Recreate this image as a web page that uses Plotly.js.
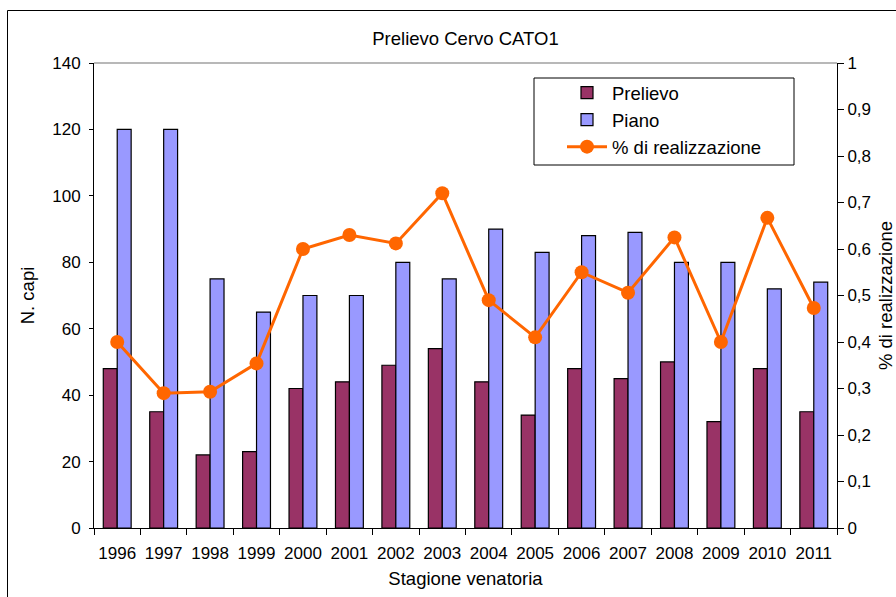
<!DOCTYPE html>
<html>
<head>
<meta charset="utf-8">
<script src="https://cdn.plot.ly/plotly-3.0.1.min.js"></script>
<style>html,body{margin:0;padding:0;background:#fff;}#chart{width:896px;height:597px;}</style>
</head>
<body>
<div id="chart"></div>
<script>
const years = ["1996","1997","1998","1999","2000","2001","2002","2003","2004","2005","2006","2007","2008","2009","2010","2011"];
const prelievo = [48,35,22,23,42,44,49,54,44,34,48,45,50,32,48,35];
const piano = [120,120,75,65,70,70,80,75,90,83,88,89,80,80,72,74];
const realizzazione = [0.40,0.29,0.293,0.354,0.60,0.63,0.612,0.72,0.49,0.41,0.55,0.506,0.625,0.40,0.667,0.473];
const leftTicks = [0,20,40,60,80,100,120,140];
const rightTicks = [0,0.1,0.2,0.3,0.4,0.5,0.6,0.7,0.8,0.9,1];

const FONT = "Liberation Sans, Arial, sans-serif";
const W = 896, H = 597;
const mL = 94, mR = 59, mT = 63, mB = 69;
const pw = W - mL - mR, ph = H - mT - mB;
const px = x => (x - mL) / pw;
const py = y => (H - mB - y) / ph;

const traces = [
  {type:'bar', name:'Prelievo', x:years, y:prelievo, marker:{color:'#993366', line:{color:'#000', width:1.2}}},
  {type:'bar', name:'Piano', x:years, y:piano, marker:{color:'#9999FF', line:{color:'#000', width:1.2}}},
  {type:'scatter', mode:'lines+markers', name:'% di realizzazione', x:years, y:realizzazione, yaxis:'y2',
   line:{color:'#FF6600', width:3}, marker:{color:'#FF6600', size:14}}
];

const boundaries = [];
for (let i = 0; i <= years.length; i++) boundaries.push(i - 0.5);

const layout = {
  width: W, height: H,
  margin: {l:mL, r:mR, t:mT, b:mB, pad:0},
  paper_bgcolor:'#fff', plot_bgcolor:'#fff',
  separators: ',.',
  font: {family: FONT, size: 17, color:'#000'},
  title: {text:'Prelievo Cervo CATO1', font:{size:18.5}, x:0.5, xref:'paper', y:1-39/H, yanchor:'middle'},
  barmode:'group', bargap:0.4, bargroupgap:0,
  showlegend:true,
  legend:{x:px(562), y:py(74), xanchor:'left', yanchor:'top', bgcolor:'rgba(0,0,0,0)', borderwidth:0,
          font:{size:18.5}, itemwidth:40, tracegroupgap:0, traceorder:'normal'},
  xaxis:{type:'category', range:[-0.5, years.length-0.5], autorange:false, showline:true, linecolor:'#000', linewidth:1,
         ticks:'outside', ticklen:6, tickcolor:'#000', tickangle:0, ticklabelstandoff:10,
         tickson:'boundaries', showgrid:false, zeroline:false, tickfont:{size:17},
         title:{text:'Stagione venatoria', font:{size:18.5}, standoff:9}},
  xaxis2:{overlaying:'x', anchor:'y', type:'linear', range:[-0.5, years.length-0.5], autorange:false, tickmode:'array', tickvals:boundaries,
          ticks:'inside', ticklen:5, tickcolor:'#000', showticklabels:false, showline:false, showgrid:false, zeroline:false},
  yaxis:{range:[0,140], autorange:false, tickmode:'array', tickvals:leftTicks, showline:true, linecolor:'#000', linewidth:1,
         ticks:'outside', ticklen:4, tickcolor:'#000', showgrid:false, zeroline:false, tickfont:{size:17}, ticklabelstandoff:5,
         title:{text:'N. capi', font:{size:18.5}, standoff:12}},
  yaxis2:{overlaying:'y', side:'right', anchor:'x', range:[0,1], autorange:false, tickmode:'array', tickvals:rightTicks,
          showline:true, linecolor:'#000', linewidth:1, ticks:'outside', ticklen:6, tickcolor:'#000',
          showgrid:false, zeroline:false, tickfont:{size:17},
          title:{text:'% di realizzazione', font:{size:18.5}, standoff:10}},
  yaxis3:{overlaying:'y', side:'left', anchor:'x', range:[0,140], autorange:false, tickmode:'array', tickvals:leftTicks,
          ticks:'inside', ticklen:6, tickcolor:'#000', showticklabels:false, showline:false, showgrid:false, zeroline:false},
  yaxis4:{overlaying:'y', side:'right', anchor:'x', range:[0,1], autorange:false, tickmode:'array', tickvals:rightTicks,
          ticks:'inside', ticklen:6, tickcolor:'#000', showticklabels:false, showline:false, showgrid:false, zeroline:false},
  shapes:[
    {type:'line', xref:'paper', yref:'paper', x0:0, x1:1, y0:1, y1:1, line:{color:'#A0A0A0', width:1.5}},
    {type:'rect', xref:'paper', yref:'paper', x0:px(534), x1:px(794), y0:py(78), y1:py(165), line:{color:'#000', width:1}, fillcolor:'rgba(0,0,0,0)'},
    {type:'rect', xref:'paper', yref:'paper', x0:px(7.5), x1:px(910), y0:py(10.5), y1:py(620), line:{color:'#000', width:1}, fillcolor:'rgba(0,0,0,0)'}
  ]
};

Plotly.newPlot('chart', traces, layout, {displayModeBar:false, staticPlot:true});
</script>
</body>
</html>
